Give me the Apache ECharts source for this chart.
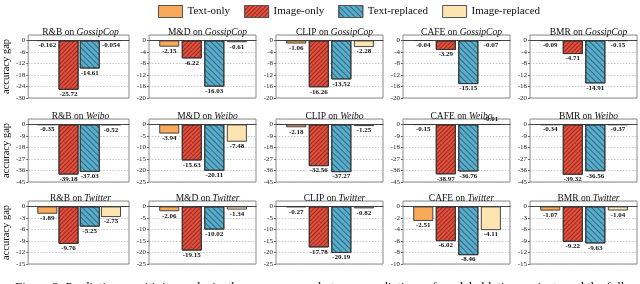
<!DOCTYPE html>
<html><head><meta charset="utf-8">
<script src="https://cdn.jsdelivr.net/npm/echarts@6/dist/echarts.min.js"></script>
<style>html,body{margin:0;padding:0;background:#fff}#c{width:640px;height:284px}</style>
</head><body><div id="c"></div>
<script>
// ---- data ----
const methods = ['Text-only', 'Image-only', 'Text-replaced', 'Image-replaced'];
const models = ['R&B', 'M&D', 'CLIP', 'CAFE', 'BMR'];
const datasets = ['GossipCop', 'Weibo', 'Twitter'];

const gossipcopValues = [
  [-0.162, -25.72, -14.61, -0.054],
  [-2.15, -6.22, -16.03, -0.61],
  [-1.06, -16.26, -13.52, -2.28],
  [-0.04, -3.29, -15.15, -0.07],
  [-0.09, -4.71, -14.91, -0.15]
];
const weiboValues = [
  [-0.35, -39.18, -37.03, -0.52],
  [-3.94, -15.63, -20.11, -7.48],
  [-2.18, -32.56, -37.27, -1.25],
  [-0.15, -38.97, -36.76, -0.01],
  [-0.34, -39.32, -36.56, -0.37]
];
const twitterValues = [
  [-1.89, -9.76, -5.25, -2.75],
  [-2.06, -19.15, -10.02, -1.34],
  [-0.27, -17.78, -20.19, -0.82],
  [-2.51, -6.02, -8.46, -4.11],
  [-1.07, -9.22, -9.63, -1.04]
];
const gossipcopYMin = [-30, -20, -20, -20, -20];
const gossipcopYStep = [6, 4, 4, 4, 4];
const weiboYMin = [-45, -25, -45, -45, -45];
const weiboYStep = [9, 5, 9, 9, 9];
const twitterYMin = [-15, -25, -25, -10, -15];
const twitterYStep = [3, 5, 5, 2, 3];

const caption = 'Figure 2: Prediction sensitivity analysis: the accuracy gap between predictions of model ablation variants and the following variants';

// ---- styling / layout ----
const FONT = 'Liberation Serif';
const colors = ['#F8A95A', '#E0513E', '#5AADC9', '#FEE4B1'];
const decals = [
  null,
  { symbol: 'rect', symbolSize: 1, dashArrayX: [1, 0], dashArrayY: [1, 1.5], rotation: -Math.PI / 4, color: 'rgba(90,0,0,0.5)' },
  { symbol: 'rect', symbolSize: 1, dashArrayX: [1, 0], dashArrayY: [1, 2.5], rotation: Math.PI / 4, color: 'rgba(0,40,70,0.5)' },
  null
];
const colLeft = [22, 149, 276, 403, 530];
const rowTop = [35, 119, 201];
const gridW = 107, gridH = 63;

const rowsData = [
  { values: gossipcopValues, ymin: gossipcopYMin, ystep: gossipcopYStep },
  { values: weiboValues, ymin: weiboYMin, ystep: weiboYStep },
  { values: twitterValues, ymin: twitterYMin, ystep: twitterYStep }
];

const grids = [], xAxes = [], yAxes = [], series = [], titles = [];
let gi = 0;
rowsData.forEach((rd, r) => {
  models.forEach((m, c) => {
    const left = colLeft[c], top = rowTop[r];
    grids.push({ left: left, top: top, width: gridW, height: gridH, show: true,
      borderColor: '#8a8a8a', borderWidth: 1, containLabel: false });
    xAxes.push({ gridIndex: gi, type: 'value', min: -0.9, max: 3.85, show: true,
      axisLine: { show: true, onZero: true, lineStyle: { color: '#444', width: 1 } },
      axisTick: { show: false }, axisLabel: { show: false }, splitLine: { show: false } });
    const ymin = rd.ymin[c], step = rd.ystep[c];
    yAxes.push({ gridIndex: gi, type: 'value', min: ymin, max: -ymin * 0.095, interval: step,
      name: c === 0 ? 'accuracy gap' : '', nameLocation: 'middle', nameGap: 12, nameRotate: 90,
      nameTextStyle: { fontFamily: FONT, fontSize: 10.5, color: '#111' },
      axisLine: { show: false, onZero: false },
      axisTick: { show: true, length: 2, lineStyle: { color: '#666' } },
      axisLabel: { fontFamily: FONT, fontSize: 7, color: '#222', margin: 3, showMaxLabel: false,
        formatter: v => (Math.abs(Math.round(v / step) * step - v) < 1e-6 ? String(Math.round(v)) : '') },
      splitLine: { show: true, lineStyle: { color: '#b0b0b0', type: [1.5, 1.5], width: 0.7 } } });
    methods.forEach((name, k) => {
      const v = rd.values[c][k];
      const above = (r === 1 && c === 3 && k === 3);
      series.push({
        type: 'bar', name: name, xAxisIndex: gi, yAxisIndex: gi,
        barWidth: 20, barGap: '-100%',
        data: [[k, v]],
        itemStyle: { color: colors[k], borderColor: '#333', borderWidth: 0.9, decal: decals[k] || undefined },
        label: { show: true, position: above ? 'top' : 'bottom', distance: 1,
          fontFamily: FONT, fontSize: 7, fontWeight: 'bold', color: '#111',
          formatter: p => String(p.value[1]) },
        emphasis: { disabled: true }, animation: false
      });
    });
    titles.push({
      text: '{a|' + m + ' on }{b|' + datasets[r] + '}',
      left: left + gridW / 2, top: top - 13, textAlign: 'center',
      textStyle: { fontWeight: 'normal', rich: {
        a: { fontFamily: FONT, fontSize: 9.5, fontWeight: 'normal', color: '#111' },
        b: { fontFamily: FONT, fontSize: 9.5, fontWeight: 'normal', fontStyle: 'italic', color: '#111' } } }
    });
    gi++;
  });
});
titles.push({ text: caption, left: 10, top: 276, textStyle: { fontFamily: FONT, fontSize: 13, fontWeight: 'normal', color: '#111' } });

const chart = echarts.init(document.getElementById('c'), null, { renderer: 'canvas' });
chart.setOption({
  animation: false,
  backgroundColor: '#fff',
  title: titles,
  legend: { data: methods, left: 153, top: 0, itemWidth: 24, itemHeight: 12, itemGap: 14, icon: 'rect',
    itemStyle: { borderColor: '#555', borderWidth: 1 },
    textStyle: { fontFamily: FONT, fontSize: 11, color: '#111' }, selectedMode: false },
  grid: grids, xAxis: xAxes, yAxis: yAxes, series: series
});
</script></body></html>
